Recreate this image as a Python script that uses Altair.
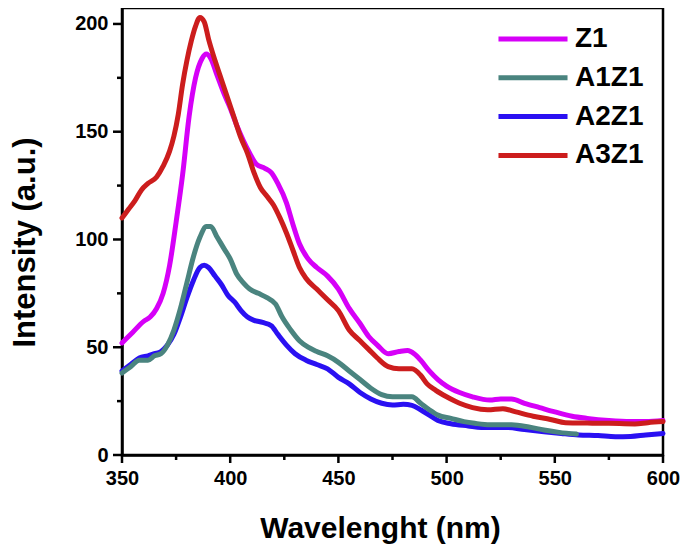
import altair as alt
import pandas as pd

# ---- data ----
z1_x = [350, 355, 360, 363, 366, 369, 372, 375, 378, 381, 384, 387, 389, 391, 394, 397, 400, 403, 406, 409,
        412, 416, 419, 422, 426, 429, 432, 436, 440, 445, 450, 455, 460, 464, 468, 473, 478, 482, 485, 488,
        492, 496, 500, 506, 512, 520, 525, 530, 536, 543, 550, 558, 565, 575, 585, 592, 600]
z1_y = [52, 57, 62, 64, 68, 75, 88, 108, 130, 157, 175, 184, 186, 184, 176, 168, 161, 153, 146, 140,
        135, 133, 131, 126, 117, 107, 98, 91, 87, 83, 77, 68, 61, 55, 51, 47, 48, 48.5, 47, 44,
        39, 35, 32, 29, 27, 25.5, 26, 26, 24, 22, 20, 18, 17, 16, 15.5, 15.5, 16]

a3_x = [350, 353, 356, 359, 362, 366, 369, 372, 374, 376, 378, 380, 382, 384, 386, 388, 390, 393, 396, 399,
        402, 405, 408, 411, 414, 417, 420, 423, 426, 429, 432, 435, 440, 445, 450, 455, 460, 464, 468, 473,
        478, 484, 488, 491, 495, 500, 506, 512, 519, 526, 532, 540, 548, 555, 565, 575, 587, 593, 600]
a3_y = [110, 114, 118, 123, 126, 129, 134, 141, 148, 158, 172, 183, 192, 199, 203, 201, 193, 183, 174, 165,
        156, 147, 140, 131, 124, 120, 116, 110, 103, 95, 87, 82, 77, 72, 67, 58, 53, 49, 45, 41,
        40, 40, 37, 33, 30, 27, 24, 22, 21, 21.5, 20, 18, 16.5, 15, 14.8, 14.7, 14.4, 15, 15.5]

a1_x = [350, 354, 358, 362, 365, 368, 371, 374, 377, 380, 383, 386, 389, 391, 394, 397, 400, 403, 406, 409,
        413, 417, 421, 424, 428, 432, 436, 440, 445, 450, 455, 460, 465, 470, 475, 480, 484, 488, 492, 496,
        502, 508, 513, 520, 530, 538, 545, 552, 560]
a1_y = [38, 41, 44, 44, 46, 47, 51, 58, 68, 80, 92, 101, 106, 106, 101, 96, 91, 84, 80, 77,
        75, 73, 70, 64, 58, 53, 50, 48, 46, 43, 39, 35, 31, 28, 27, 27, 27, 24, 21, 18.5,
        17, 15.5, 14.7, 14, 14, 13, 11.6, 10.5, 9.7]

a2_x = [350, 354, 358, 362, 365, 368, 371, 374, 377, 380, 383, 386, 388, 390, 393, 396, 399, 402, 405, 408,
        411, 415, 419, 422, 426, 430, 435, 440, 445, 450, 455, 460, 465, 470, 475, 480, 484, 488, 492, 496,
        502, 510, 516, 528, 536, 545, 553, 561, 570, 578, 585, 592, 600]
a2_y = [39, 42, 45, 46, 47, 48, 51, 56, 64, 73, 81, 87, 88, 87, 83, 79, 74, 71, 67, 64,
        62.5, 61.5, 60, 56, 51, 47, 44, 42, 40, 36, 33, 29, 26, 24, 23.2, 23.5, 23, 21, 18.5, 16,
        14.5, 13.5, 12.8, 12.8, 11.8, 10.8, 10, 9.3, 9, 8.5, 8.6, 9.3, 10]

series_names = ["Z1", "A1Z1", "A2Z1", "A3Z1"]
series_colors = ["#D600F8", "#4A847F", "#2A10F2", "#CC1D1D"]

x_major = [350, 400, 450, 500, 550, 600]
x_minor = [375, 425, 475, 525, 575]
y_major = [0, 50, 100, 150, 200]
y_minor = [25, 75, 125, 175]

# draw order: blue, teal, magenta, red (red on top)
frames = []
for order, (name, xs, ys) in enumerate([("A2Z1", a2_x, a2_y), ("A1Z1", a1_x, a1_y),
                                         ("Z1", z1_x, z1_y), ("A3Z1", a3_x, a3_y)]):
    frames.append(pd.DataFrame({"wl": xs, "val": ys, "series": name, "ord": order}))
df = pd.concat(frames, ignore_index=True)

FONT = "Liberation Sans"
W, H = 541, 447
xscale = alt.Scale(domain=[350, 600], nice=False, zero=False)
yscale = alt.Scale(domain=[0, 207.4], nice=False, zero=False)

x_axis = alt.Axis(values=x_major, title="Wavelenght (nm)", ticks=False, labelFlush=False,
                  labelFont=FONT, labelFontSize=20, labelFontWeight="bold", labelColor="black",
                  titleFont=FONT, titleFontSize=30, titleFontWeight="bold", titleColor="black",
                  titleX=258, titleY=82, titleBaseline="alphabetic", titleAlign="center",
                  domainColor="black", domainWidth=2.5, labelPadding=13, grid=False,
                  labelOverlap=False)
y_axis = alt.Axis(values=y_major, title="Intensity (a.u.)", ticks=False, labelFlush=False,
                  labelFont=FONT, labelFontSize=20, labelFontWeight="bold", labelColor="black",
                  titleFont=FONT, titleFontSize=31, titleFontWeight="bold", titleColor="black",
                  titleX=-97, titleY=234, titleAngle=270, titleBaseline="middle",
                  titleAlign="center",
                  domainColor="black", domainWidth=2.5, labelPadding=14, grid=False,
                  labelOverlap=False)

lines = alt.Chart(df).mark_line(strokeWidth=5, strokeJoin="round", strokeCap="round",
                                interpolate="monotone").encode(
    x=alt.X("wl:Q", scale=xscale, axis=x_axis, title="Wavelenght (nm)"),
    y=alt.Y("val:Q", scale=yscale, axis=y_axis, title="Intensity (a.u.)"),
    color=alt.Color("series:N",
                    scale=alt.Scale(domain=series_names, range=series_colors),
                    legend=alt.Legend(title=None, orient="none", legendX=397, legendY=17,
                                      symbolType="M-4,0H4", symbolSize=298, symbolStrokeWidth=5,
                                      labelFont=FONT, labelFontSize=28, labelFontWeight="bold",
                                      labelColor="black", labelOffset=28, rowPadding=10.8, padding=0,
                                      labelLimit=300)),
    detail="ord:O",
    order="ord:O",
)


def xticks(vals, size):
    return alt.Chart(pd.DataFrame({"wl": vals})).mark_rule(color="black", strokeWidth=2.5).encode(
        x=alt.X("wl:Q", scale=xscale, axis=x_axis, title="Wavelenght (nm)"),
        y=alt.value(H), y2=alt.value(H + size))


def yticks(vals, size):
    return alt.Chart(pd.DataFrame({"val": vals})).mark_rule(color="black", strokeWidth=2.5).encode(
        y=alt.Y("val:Q", scale=yscale, axis=y_axis, title="Intensity (a.u.)"),
        x=alt.value(0), x2=alt.value(-size))


chart = alt.layer(lines, xticks(x_major, 8), xticks(x_minor, 5),
                  yticks(y_major, 9), yticks(y_minor, 5)).properties(
    width=W, height=H,
    autosize=alt.AutoSizeParams(type="none"),
    padding={"left": 114, "top": 0, "right": 18, "bottom": 89},
).configure_view(stroke="black", strokeWidth=2.5)

chart.save("out.html", embed_options={"renderer": "svg", "actions": False})
